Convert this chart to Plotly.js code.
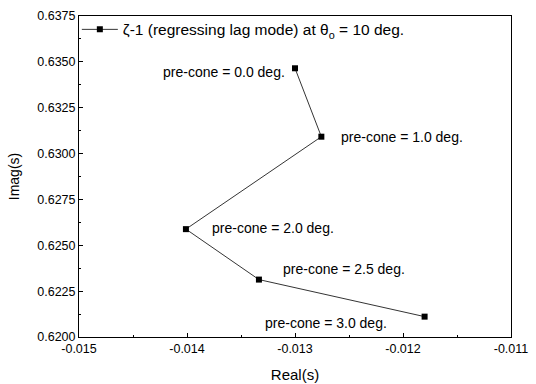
<!DOCTYPE html>
<html>
<head>
<meta charset="utf-8">
<script src="https://cdn.plot.ly/plotly-3.0.1.min.js"></script>
<style>html,body{margin:0;padding:0;background:#fff;}#chart{width:536px;height:384px;}</style>
</head>
<body>
<div id="chart"></div>
<script>
var realPart = [-0.01300, -0.012756, -0.01401, -0.013334, -0.01180];
var imagPart = [0.63465, 0.63092, 0.62588, 0.62313, 0.62111];
var preCone = ["0.0", "1.0", "2.0", "2.5", "3.0"];
var seriesName = "ζ-1 (regressing lag mode) at θ<sub>o</sub> = 10 deg.";
var xTicks = [-0.015, -0.014, -0.013, -0.012, -0.011];
var xTickText = ["-0.015", "-0.014", "-0.013", "-0.012", "-0.011"];
var yTicks = [0.6200, 0.6225, 0.6250, 0.6275, 0.6300, 0.6325, 0.6350, 0.6375];
var yTickText = ["0.6200", "0.6225", "0.6250", "0.6275", "0.6300", "0.6325", "0.6350", "0.6375"];

var FONT = "Liberation Sans, Arial, sans-serif";

// label placement (offsets in px relative to each point)
var labelStyle = [
  {xanchor: "right", xshift: -8, yshift: -4},
  {xanchor: "left", xshift: 18, yshift: 0},
  {xanchor: "left", xshift: 24, yshift: 1},
  {xanchor: "left", xshift: 22, yshift: 11},
  {xanchor: "right", xshift: -36, yshift: -6}
];

var annotations = preCone.map(function(p, i) {
  return {
    x: realPart[i], y: imagPart[i], xref: "x", yref: "y",
    text: "pre-cone = " + p + " deg.",
    showarrow: false,
    xanchor: labelStyle[i].xanchor, yanchor: "middle",
    xshift: labelStyle[i].xshift, yshift: labelStyle[i].yshift,
    font: {family: FONT, size: 14, color: "#000"}
  };
});

var trace = {
  x: realPart, y: imagPart, mode: "lines+markers", name: seriesName,
  line: {color: "#000", width: 0.8},
  marker: {symbol: "square", size: 6, color: "#000"}
};

var axisCommon = {
  showgrid: false, zeroline: false, showline: true, mirror: true,
  linecolor: "#000", linewidth: 1, ticks: "inside", ticklen: 4, tickcolor: "#000",
  tickfont: {family: FONT, size: 12.5, color: "#000"}
};

var layout = {
  width: 536, height: 384,
  margin: {l: 79, r: 25, t: 16, b: 47},
  paper_bgcolor: "#fff", plot_bgcolor: "#fff",
  showlegend: true,
  legend: {x: -0.005, y: 1.01, xanchor: "left", yanchor: "top", bgcolor: "rgba(0,0,0,0)",
    itemwidth: 36,
    font: {family: FONT, size: 15.5, color: "#000"}},
  xaxis: Object.assign({}, axisCommon, {
    range: [-0.015, -0.011], tickmode: "array", tickvals: xTicks, ticktext: xTickText,
    minor: {dtick: 0.0005, ticks: "inside", ticklen: 2, tickcolor: "#000"},
    title: {text: "Real(s)", standoff: 14, font: {family: FONT, size: 15, color: "#000"}}
  }),
  yaxis: Object.assign({}, axisCommon, {
    range: [0.62, 0.6375], tickmode: "array", tickvals: yTicks, ticktext: yTickText,
    minor: {dtick: 0.00125, ticks: "inside", ticklen: 2, tickcolor: "#000"},
    title: {text: "Imag(s)", standoff: 14, font: {family: FONT, size: 14, color: "#000"}}
  }),
  annotations: annotations
};

Plotly.newPlot("chart", [trace], layout, {displayModeBar: false, staticPlot: true});
</script>
</body>
</html>
